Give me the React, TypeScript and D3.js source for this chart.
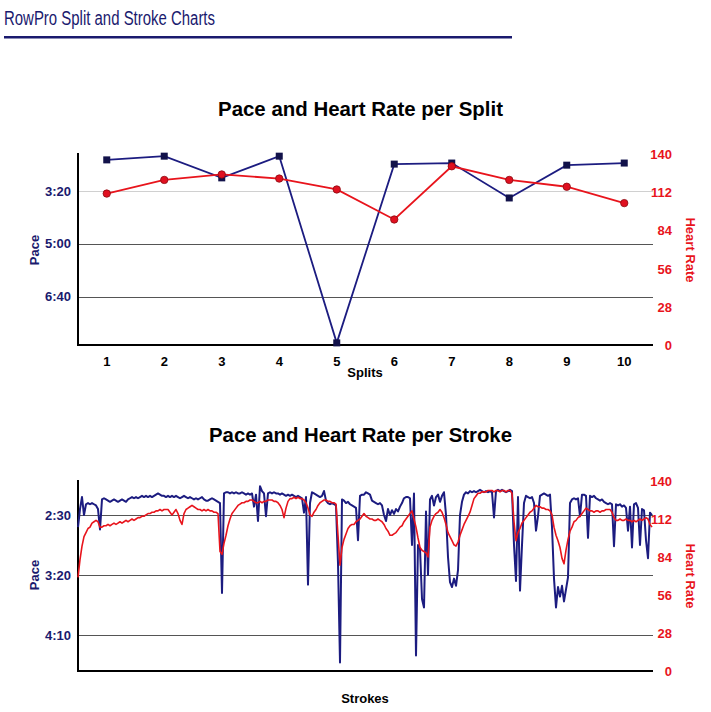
import React from "react";
import * as d3 from "d3";

// ---------- DATA ----------
const splits = [1, 2, 3, 4, 5, 6, 7, 8, 9, 10];
// pace per split in seconds per 500m
const splitPace = [141, 134, 175, 134, 487, 149, 147, 213, 151, 147];
// heart rate per split
const splitHR = [111, 121, 125, 122, 114, 92, 131, 121, 116, 104];

const splitPaceTicks = [200, 300, 400];
const hrTicks = [0, 28, 56, 84, 112, 140];
const strokePaceTicks = [150, 200, 250];

// pace per stroke (seconds per 500m)
const strokePace = [
  160, 145, 135, 150, 141, 140, 141, 140, 141, 142, 145, 162, 137, 136, 137, 138, 139, 138, 137, 138,
  139, 138, 137, 138, 139, 137, 136, 135, 136, 135, 136, 135, 134, 135, 134, 135, 134, 135, 134, 133,
  132, 133, 134, 134, 135, 134, 135, 134, 135, 134, 135, 136, 135, 134, 135, 136, 135, 136, 137, 136,
  137, 136, 135, 137, 138, 138, 137, 136, 137, 138, 139, 140, 215, 132, 131, 131, 132, 131, 132, 131,
  132, 132, 131, 132, 133, 132, 133, 132, 143, 133, 155, 126, 130, 132, 151, 132, 131, 132, 131, 132,
  132, 133, 132, 133, 134, 133, 134, 133, 134, 135, 134, 135, 136, 148, 135, 208, 140, 131, 132, 133,
  134, 135, 134, 130, 138, 140, 141, 140, 141, 142, 190, 273, 137, 138, 140, 139, 141, 142, 143, 144,
  171, 134, 133, 133, 131, 132, 133, 138, 139, 140, 141, 140, 142, 150, 155, 145, 150, 146, 149, 145,
  147, 143, 140, 136, 135, 135, 136, 175, 132, 267, 175, 178, 220, 227, 147, 200, 137, 134, 142, 135,
  133, 139, 134, 131, 150, 185, 206, 210, 203, 209, 196, 150, 139, 133, 131, 132, 130, 131, 130, 131,
  130, 129, 130, 131, 130, 131, 130, 131, 152, 130, 129, 130, 129, 130, 131, 130, 129, 130, 175, 205,
  135, 213, 175, 140, 134, 135, 136, 135, 140, 163, 151, 134, 133, 132, 133, 134, 133, 160, 203, 227,
  210, 218, 209, 222, 212, 202, 140, 137, 136, 137, 136, 151, 133, 133, 134, 169, 134, 135, 134, 136,
  137, 138, 137, 139, 140, 141, 140, 141, 176, 141, 142, 141, 143, 142, 144, 163, 143, 177, 141, 140,
  144, 175, 145, 146, 171, 186, 148, 150,
];

// heart rate per stroke
const strokeHR = [
  69, 82, 92, 99, 102, 105, 106, 109, 110, 111, 110, 106, 106, 107, 107, 108, 107, 108, 109, 108,
  109, 110, 109, 110, 111, 110, 111, 112, 111, 112, 113, 113, 114, 114, 115, 116, 116, 117, 117, 118,
  118, 119, 118, 119, 119, 119, 117, 115, 117, 119, 116, 111, 108, 116, 119, 120, 121, 122, 121, 120,
  119, 119, 118, 119, 118, 119, 118, 118, 117, 117, 116, 88, 86, 94, 100, 107, 112, 116, 118, 120,
  122, 123, 124, 124, 125, 125, 126, 126, 125, 124, 124, 125, 124, 125, 125, 126, 126, 126, 125, 125,
  124, 122, 119, 113, 120, 125, 127, 127, 128, 127, 128, 127, 127, 126, 124, 120, 115, 114, 117, 119,
  122, 124, 125, 126, 126, 125, 125, 124, 124, 123, 100, 78, 91, 97, 101, 105, 107, 108, 108, 110,
  111, 112, 114, 116, 114, 113, 112, 112, 111, 111, 112, 111, 110, 108, 105, 103, 100, 100, 101, 102,
  104, 106, 107, 110, 112, 114, 116, 118, 112, 106, 98, 91, 89, 88, 87, 84, 106, 111, 114, 116,
  117, 119, 117, 113, 108, 102, 99, 96, 93, 92, 95, 100, 104, 108, 111, 114, 117, 122, 127, 129,
  131, 131, 132, 132, 132, 133, 133, 133, 132, 133, 133, 132, 133, 133, 132, 133, 133, 131, 110, 96,
  102, 105, 109, 111, 113, 115, 117, 118, 120, 122, 121, 121, 120, 120, 119, 119, 118, 115, 106, 100,
  96, 91, 83, 79, 89, 97, 103, 106, 110, 111, 113, 114, 116, 118, 120, 119, 118, 118, 117, 118,
  118, 117, 118, 118, 119, 119, 119, 117, 113, 111, 111, 112, 111, 111, 112, 111, 111, 110, 111, 110,
  111, 112, 111, 112, 113, 112, 108, 106,
];

// ---------- STYLE ----------
const FONT = "'Liberation Sans', Arial, Helvetica, sans-serif";
const NAVY = "#1a1a6e";
const PACE_COL = "#1c1c80";
const RED = "#e8141c";

const fmtPace = (s: number) => {
  const m = Math.floor(s / 60);
  const r = Math.round(s - m * 60);
  return `${m}:${r < 10 ? "0" : ""}${r}`;
};

const X0 = 78;
const X1 = 653;

function App() {
  // ---- top chart scales ----
  const topY0 = 153;
  const topY1 = 345;
  const xBand = d3.scaleBand<number>().domain(splits).range([X0, X1]);
  const xs = (d: number) => (xBand(d) as number) + xBand.bandwidth() / 2;
  const yPaceTop = d3.scaleLinear().domain([128, 491]).range([topY0, topY1]);
  const yHRTop = d3.scaleLinear().domain([0, 140]).range([topY1, 154]);

  const topPaceLine = d3
    .line<number>()
    .x((_, i) => xs(splits[i]))
    .y((d) => yPaceTop(d))(splitPace) as string;
  const topHRLine = d3
    .line<number>()
    .x((_, i) => xs(splits[i]))
    .y((d) => yHRTop(d))(splitHR) as string;

  // ---- bottom chart scales ----
  const botY0 = 480;
  const botY1 = 671;
  const xStroke = d3
    .scaleLinear()
    .domain([0, strokePace.length - 1])
    .range([X0, 652]);
  const yPaceBot = d3.scaleLinear().domain([120.8, 280]).range([botY0, botY1]);
  const yHRBot = d3.scaleLinear().domain([0, 140]).range([botY1, 481]);

  const botPaceLine = d3
    .line<number>()
    .x((_, i) => xStroke(i))
    .y((d) => yPaceBot(d))(strokePace) as string;
  const botHRLine = d3
    .line<number>()
    .x((_, i) => xStroke(i))
    .y((d) => yHRBot(d))(strokeHR) as string;

  const snap = (v: number) => Math.round(v) + 0.5;

  return (
    <svg
      width={711}
      height={712}
      style={{ position: "absolute", left: 0, top: 0, background: "#fff" }}
      fontFamily={FONT}
    >
      <rect x={0} y={0} width={711} height={712} fill="#fff" />
      {/* page header */}
      <text x={4} y={25} fontSize={20} fill={NAVY} textLength={211} lengthAdjust="spacingAndGlyphs">
        RowPro Split and Stroke Charts
      </text>
      <line x1={4} x2={512} y1={37.3} y2={37.3} stroke={NAVY} strokeWidth={2.5} />

      {/* ===== TOP CHART ===== */}
      <text
        x={360.5}
        y={115.7}
        fontSize={21}
        fontWeight="bold"
        textAnchor="middle"
        fill="#000"
        textLength={285}
        lengthAdjust="spacingAndGlyphs"
      >
        Pace and Heart Rate per Split
      </text>
      {splitPaceTicks.map((t, i) => (
        <g key={"tg" + t}>
          <line
            x1={X0}
            x2={X1}
            y1={snap(yPaceTop(t))}
            y2={snap(yPaceTop(t))}
            stroke={i === 0 ? "#d0d0d0" : "#555"}
            strokeWidth={1}
          />
          <text
            x={71}
            y={yPaceTop(t) + 4.5}
            fontSize={13}
            fontWeight="bold"
            textAnchor="end"
            fill={NAVY}
          >
            {fmtPace(t)}
          </text>
        </g>
      ))}
      {hrTicks.map((t) => (
        <text
          key={"th" + t}
          x={672}
          y={yHRTop(t) + 5}
          fontSize={13}
          fontWeight="bold"
          textAnchor="end"
          fill={RED}
        >
          {t}
        </text>
      ))}
      {splits.map((s) => (
        <text
          key={"xs" + s}
          x={xs(s)}
          y={366}
          fontSize={13}
          fontWeight="bold"
          textAnchor="middle"
          fill="#000"
        >
          {s}
        </text>
      ))}
      <line x1={X0} x2={X0} y1={topY0} y2={topY1 + 1} stroke="#000" strokeWidth={2} />
      <line x1={X0 - 1} x2={X1} y1={topY1} y2={topY1} stroke="#000" strokeWidth={2} />
      <text x={365} y={377} fontSize={13} fontWeight="bold" textAnchor="middle" fill="#000">
        Splits
      </text>
      <text
        transform={`translate(38.5,250) rotate(-90)`}
        fontSize={13}
        fontWeight="bold"
        textAnchor="middle"
        fill={NAVY}
      >
        Pace
      </text>
      <text
        transform={`translate(686,250) rotate(90)`}
        fontSize={13}
        fontWeight="bold"
        textAnchor="middle"
        fill={RED}
      >
        Heart Rate
      </text>

      <path d={topPaceLine} fill="none" stroke={PACE_COL} strokeWidth={1.8} />
      {splitPace.map((v, i) => (
        <rect
          key={"sq" + i}
          x={xs(splits[i]) - 3.5}
          y={yPaceTop(v) - 3.5}
          width={7}
          height={7}
          fill="#12124a"
        />
      ))}
      <path d={topHRLine} fill="none" stroke={RED} strokeWidth={1.8} />
      {splitHR.map((v, i) => (
        <circle
          key={"ci" + i}
          cx={xs(splits[i])}
          cy={yHRTop(v)}
          r={3.7}
          fill="#e01020"
          stroke="#8a0a10"
          strokeWidth={0.8}
        />
      ))}

      {/* ===== BOTTOM CHART ===== */}
      <text
        x={360.5}
        y={442}
        fontSize={21}
        fontWeight="bold"
        textAnchor="middle"
        fill="#000"
        textLength={303}
        lengthAdjust="spacingAndGlyphs"
      >
        Pace and Heart Rate per Stroke
      </text>
      {strokePaceTicks.map((t) => (
        <g key={"bg" + t}>
          <line
            x1={X0}
            x2={X1}
            y1={snap(yPaceBot(t))}
            y2={snap(yPaceBot(t))}
            stroke="#555"
            strokeWidth={1}
          />
          <text
            x={71}
            y={yPaceBot(t) + 4.5}
            fontSize={13}
            fontWeight="bold"
            textAnchor="end"
            fill={NAVY}
          >
            {fmtPace(t)}
          </text>
        </g>
      ))}
      {hrTicks.map((t) => (
        <text
          key={"bh" + t}
          x={672}
          y={yHRBot(t) + 5}
          fontSize={13}
          fontWeight="bold"
          textAnchor="end"
          fill={RED}
        >
          {t}
        </text>
      ))}
      <line x1={X0} x2={X0} y1={botY0} y2={botY1 + 1} stroke="#000" strokeWidth={2} />
      <line x1={X0 - 1} x2={X1} y1={botY1} y2={botY1} stroke="#000" strokeWidth={2} />
      <text x={365} y={703} fontSize={13} fontWeight="bold" textAnchor="middle" fill="#000">
        Strokes
      </text>
      <text
        transform={`translate(38.5,575) rotate(-90)`}
        fontSize={13}
        fontWeight="bold"
        textAnchor="middle"
        fill={NAVY}
      >
        Pace
      </text>
      <text
        transform={`translate(686,576) rotate(90)`}
        fontSize={13}
        fontWeight="bold"
        textAnchor="middle"
        fill={RED}
      >
        Heart Rate
      </text>

      <path d={botPaceLine} fill="none" stroke={PACE_COL} strokeWidth={2} strokeLinejoin="round" />
      <path d={botHRLine} fill="none" stroke={RED} strokeWidth={1.6} strokeLinejoin="round" />
    </svg>
  );
}

export default App;
